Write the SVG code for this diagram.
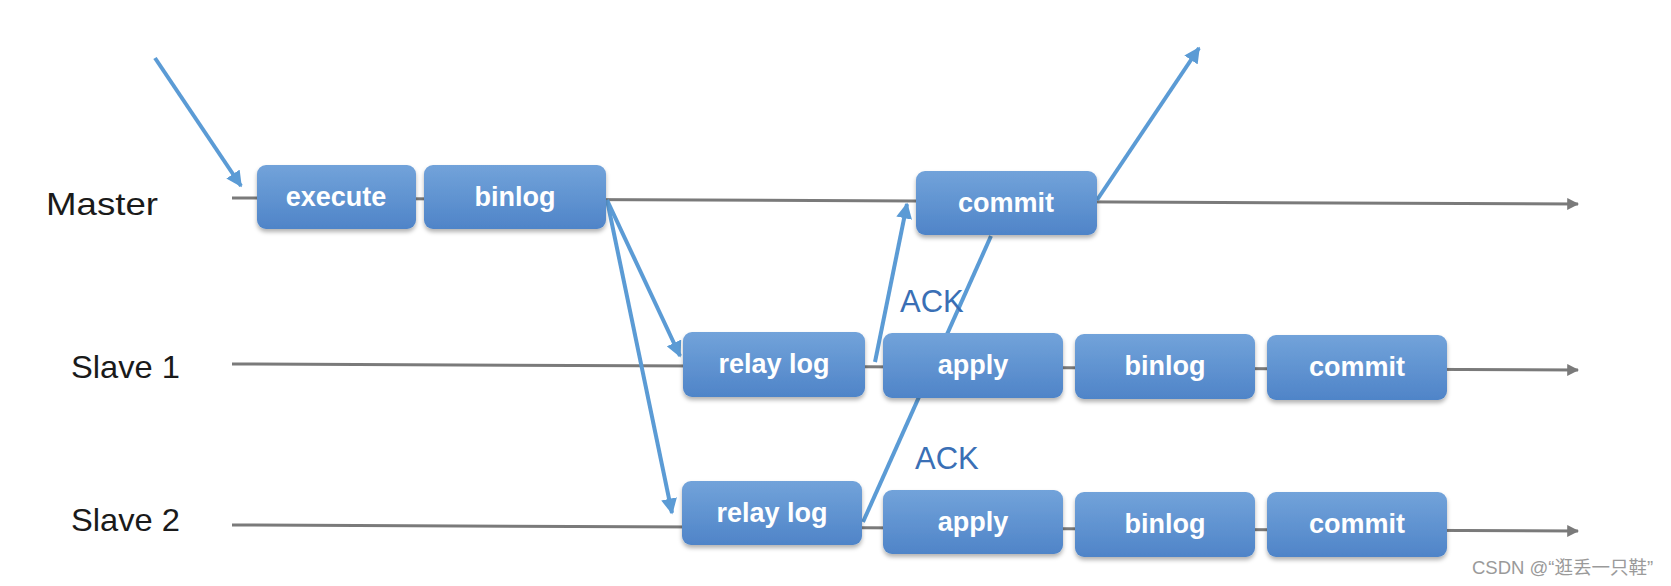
<svg xmlns="http://www.w3.org/2000/svg" width="1671" height="586" viewBox="0 0 1671 586">
<defs>
<linearGradient id="boxg" x1="0" y1="0" x2="0" y2="1">
<stop offset="0" stop-color="#72a3da"/>
<stop offset="1" stop-color="#4f84c8"/>
</linearGradient>
<filter id="sh" x="-10%" y="-10%" width="120%" height="130%">
<feDropShadow dx="0" dy="3" stdDeviation="2" flood-color="#000" flood-opacity="0.3"/>
</filter>
<marker id="ga" viewBox="0 0 10 10" refX="9" refY="5" markerWidth="4" markerHeight="4" orient="auto" markerUnits="strokeWidth">
<path d="M0,0 L10,5 L0,10 z" fill="#7a7a7a"/>
</marker>
<marker id="ba" viewBox="0 0 10 10" refX="9" refY="5" markerWidth="4" markerHeight="4" orient="auto" markerUnits="strokeWidth">
<path d="M0,0 L10,5 L0,10 z" fill="#5b9bd5"/>
</marker>
</defs>
<style>
.lbl{font-family:"Liberation Sans",Arial,sans-serif;font-size:32px;fill:#1a1a1a}
.box rect{fill:url(#boxg);filter:url(#sh)}
.box text{font-family:"Liberation Sans",Arial,sans-serif;font-weight:bold;font-size:27px;fill:#fff;text-anchor:middle}
.tl{stroke:#7a7a7a;stroke-width:3;fill:none}
.bl{stroke:#5b9bd5;stroke-width:4;fill:none}
.ack{font-family:"Liberation Sans",Arial,sans-serif;font-size:31px;fill:#3a6fb5}
.wm{font-family:"Liberation Sans","Noto Sans CJK SC",sans-serif;font-size:18.5px;fill:#9a9a9a}
</style>
<rect width="1671" height="586" fill="#fff"/>
<g id="labels">
<text class="lbl" x="46" y="215" textLength="112" lengthAdjust="spacingAndGlyphs">Master</text>
<text class="lbl" x="71" y="378" textLength="109" lengthAdjust="spacingAndGlyphs">Slave 1</text>
<text class="lbl" x="71" y="531" textLength="109" lengthAdjust="spacingAndGlyphs">Slave 2</text>
</g>
<g id="connectors">
<line class="tl" x1="232" y1="198" x2="1578" y2="204" marker-end="url(#ga)"/>
<line class="tl" x1="232" y1="364" x2="1578" y2="370" marker-end="url(#ga)"/>
<line class="tl" x1="232" y1="525" x2="1578" y2="531" marker-end="url(#ga)"/>
<line class="bl" x1="155" y1="58" x2="241" y2="186" marker-end="url(#ba)"/>
<line class="bl" x1="607" y1="200" x2="680" y2="356" marker-end="url(#ba)"/>
<line class="bl" x1="607" y1="200" x2="672" y2="513" marker-end="url(#ba)"/>
<line class="bl" x1="875" y1="362" x2="907" y2="204" marker-end="url(#ba)"/>
<line class="bl" x1="863" y1="522" x2="991" y2="236"/>
<line class="bl" x1="1097" y1="200" x2="1199" y2="48" marker-end="url(#ba)"/>
</g>
<g id="m-execute" class="box"><rect x="257" y="165" width="159" height="64" rx="9"/><text x="336" y="206">execute</text></g>
<g id="m-binlog" class="box"><rect x="424" y="165" width="182" height="64" rx="9"/><text x="515" y="206">binlog</text></g>
<g id="m-commit" class="box"><rect x="916" y="171" width="181" height="64" rx="9"/><text x="1006" y="212">commit</text></g>
<g id="s1-relay" class="box"><rect x="683" y="332" width="182" height="65" rx="9"/><text x="774" y="373">relay log</text></g>
<g id="s1-apply" class="box"><rect x="883" y="333" width="180" height="65" rx="9"/><text x="973" y="374">apply</text></g>
<g id="s1-binlog" class="box"><rect x="1075" y="334" width="180" height="65" rx="9"/><text x="1165" y="375">binlog</text></g>
<g id="s1-commit" class="box"><rect x="1267" y="335" width="180" height="65" rx="9"/><text x="1357" y="376">commit</text></g>
<g id="s2-relay" class="box"><rect x="682" y="481" width="180" height="64" rx="9"/><text x="772" y="522">relay log</text></g>
<g id="s2-apply" class="box"><rect x="883" y="490" width="180" height="64" rx="9"/><text x="973" y="531">apply</text></g>
<g id="s2-binlog" class="box"><rect x="1075" y="492" width="180" height="65" rx="9"/><text x="1165" y="533">binlog</text></g>
<g id="s2-commit" class="box"><rect x="1267" y="492" width="180" height="65" rx="9"/><text x="1357" y="533">commit</text></g>
<g id="acks">
<text class="ack" x="900" y="312">ACK</text>
<text class="ack" x="915" y="469">ACK</text>
</g>
<text class="wm" x="1472" y="574">CSDN @“逛丢一只鞋”</text>
</svg>
